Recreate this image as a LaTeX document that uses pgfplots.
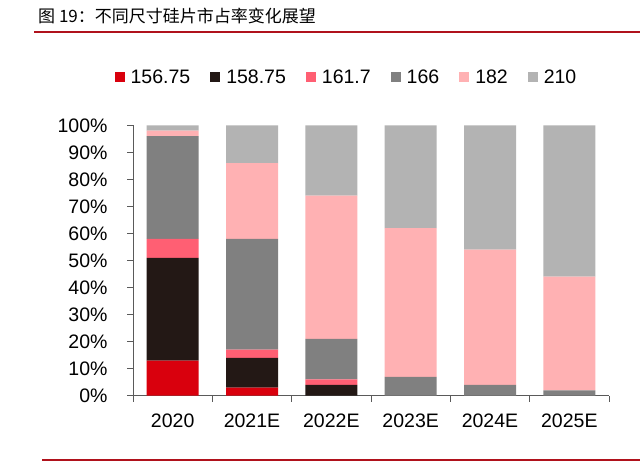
\documentclass[border=0pt]{standalone}
\usepackage{pgfplots}
\pgfplotsset{compat=1.18}
\usepackage{fontspec}
\setmainfont{Liberation Sans}
\newfontfamily\cjk{Noto Sans CJK SC}
\definecolor{cA}{HTML}{D9000D}
\definecolor{cB}{HTML}{231815}
\definecolor{cC}{HTML}{FF5F73}
\definecolor{cD}{HTML}{808080}
\definecolor{cE}{HTML}{FFB1B3}
\definecolor{cF}{HTML}{B3B3B3}
\definecolor{lineRed}{HTML}{B0121C}
\definecolor{axisGray}{HTML}{5A5A5A}
\newcommand{\legtxt}[2]{\mbox{\kern6bp #1\kern#2bp}}
\begin{document}
\begin{tikzpicture}[x=1bp,y=1bp]
\path[fill=white,use as bounding box] (0,0) rectangle (640,462);
\node[anchor=west,inner sep=0pt] at (38,446) {\cjk\fontsize{17bp}{20bp}\selectfont 图 19：不同尺寸硅片市占率变化展望};
\draw[lineRed,line width=2bp] (34,430) -- (640,430);
\draw[lineRed,line width=2bp] (42,2) -- (640,2);
\begin{axis}[
  at={(133bp,66.3bp)}, anchor=south west,
  scale only axis, width=476bp, height=270.4bp,
  ybar stacked, bar width=52bp,
  xmin=-0.5, xmax=5.5, ymin=0, ymax=100,
  axis x line=bottom, axis y line=left,
  axis line style={axisGray, line width=1bp, -},
  xtick={0,...,5},
  xticklabels={2020,2021E,2022E,2023E,2024E,2025E},
  minor xtick={-0.5,0.5,...,5.5},
  major x tick style={draw=none},
  minor x tick style={axisGray, line width=1bp},
  minor tick length=6bp,
  ytick={0,10,...,100},
  yticklabel={\pgfmathprintnumber{\tick}\%},
  /pgf/number format/assume math mode=true,
  y tick style={axisGray, line width=1bp},
  major tick length=6bp,
  tick align=outside,
  tick label style={font=\fontsize{19.5bp}{22bp}\selectfont},
  xticklabel style={yshift=-9bp},
  yticklabel style={anchor=east, xshift=-16bp},
  legend columns=6,
  legend image code/.code={\fill[#1] (0bp,-5bp) rectangle (10bp,5bp);},
  legend style={draw=none, fill=none, at={(0.4464,1.1786)}, anchor=center,
    font=\fontsize{19.5bp}{22bp}\selectfont,
    nodes={inner sep=0bp}},
  legend cell align=left,
]
\addplot[fill=cA, draw=none] coordinates {(0,13) (1,3) (2,0) (3,0) (4,0) (5,0)};
\addplot[fill=cB, draw=none] coordinates {(0,38) (1,11) (2,4) (3,0) (4,0) (5,0)};
\addplot[fill=cC, draw=none] coordinates {(0,7) (1,3) (2,2) (3,0) (4,0) (5,0)};
\addplot[fill=cD, draw=none] coordinates {(0,38) (1,41) (2,15) (3,7) (4,4) (5,2)};
\addplot[fill=cE, draw=none] coordinates {(0,2) (1,28) (2,53) (3,55) (4,50) (5,42)};
\addplot[fill=cF, draw=none] coordinates {(0,2) (1,14) (2,26) (3,38) (4,46) (5,56)};
\legend{\legtxt{156.75}{20},\legtxt{158.75}{20},\legtxt{161.7}{20},\legtxt{166}{20},\legtxt{182}{20},\legtxt{210}{0}}
\end{axis}
\end{tikzpicture}
\end{document}
